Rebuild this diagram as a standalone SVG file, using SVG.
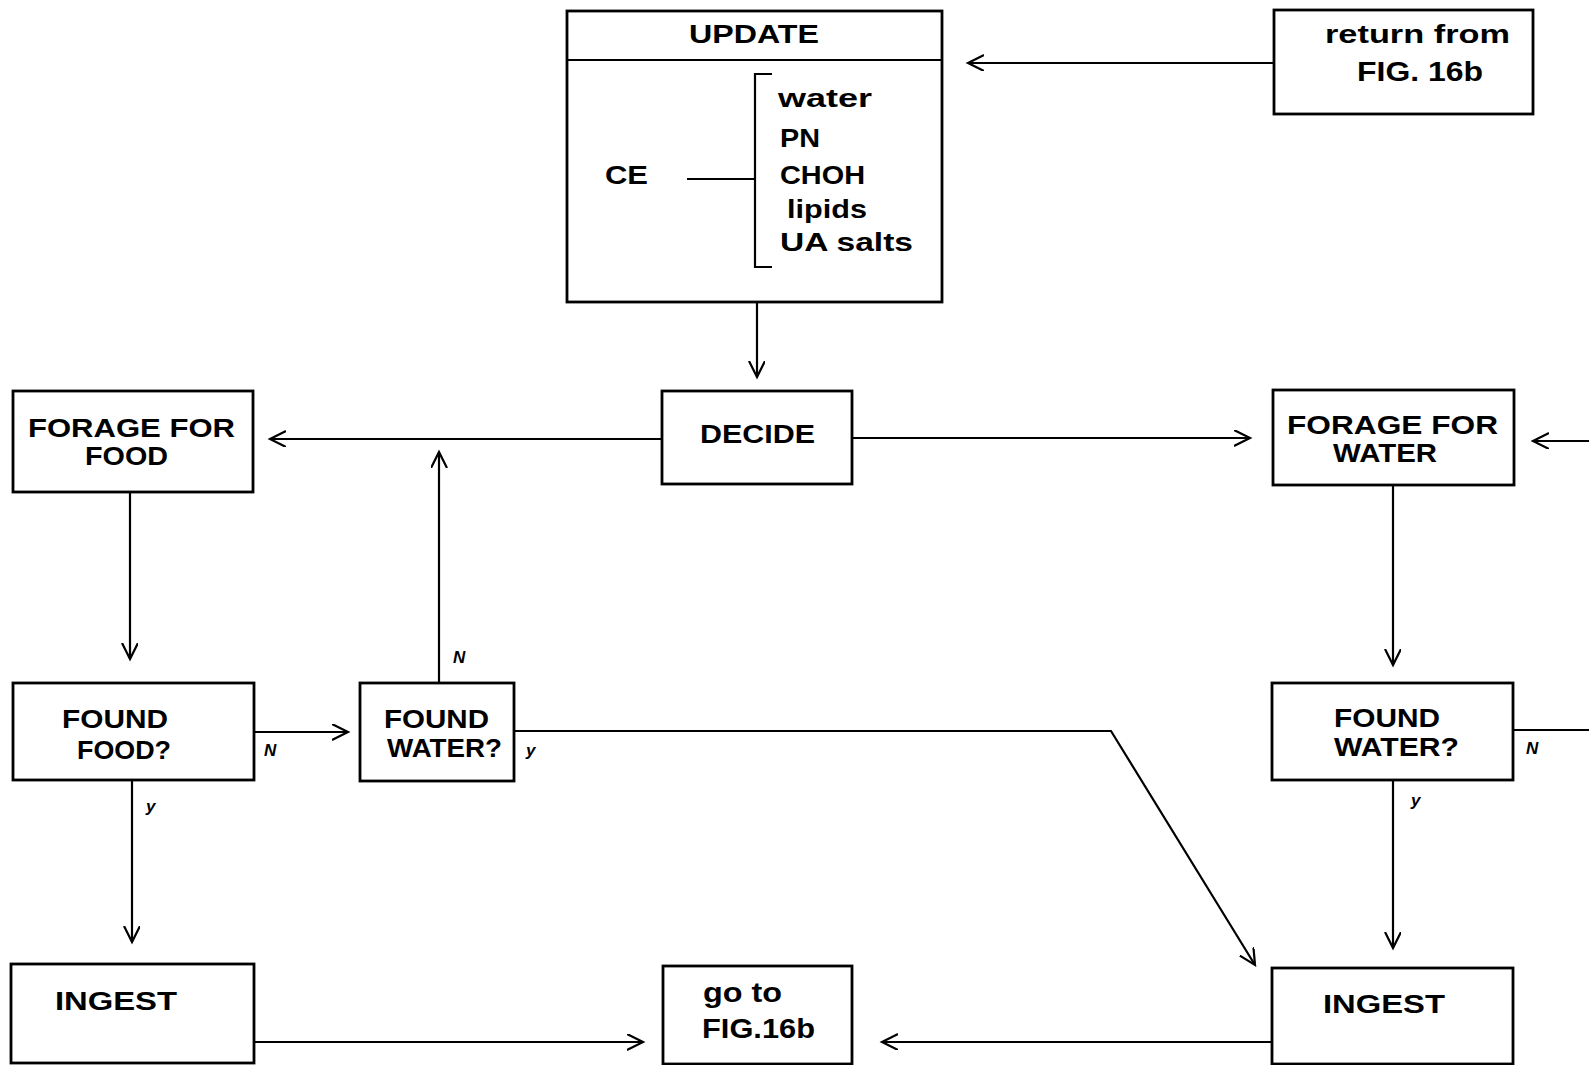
<svg xmlns="http://www.w3.org/2000/svg" width="1589" height="1065" viewBox="0 0 1589 1065">
<style>
.box{fill:none;stroke:#000;stroke-width:2.8}
.ln{fill:none;stroke:#000;stroke-width:2.2}
.arr{marker-end:url(#ah)}
text{font-family:"Liberation Sans",Arial,sans-serif;font-weight:bold;fill:#000}
.t{font-size:27px}
.s{font-size:26px}
.f{font-size:25px}
.lab{font-size:17px;font-style:italic}
</style>
<defs>
<marker id="ah" markerUnits="userSpaceOnUse" markerWidth="20" markerHeight="20" refX="16" refY="8" orient="auto">
<path d="M0,0 L16,8 L0,16" fill="none" stroke="#000" stroke-width="2.2"/>
</marker>
</defs>
<rect width="1589" height="1065" fill="#fff"/>

<g id="update">
<rect class="box" x="567" y="11" width="375" height="291"/>
<line class="ln" x1="567" y1="60" x2="942" y2="60"/>
<text class="s" x="689" y="43" textLength="130" lengthAdjust="spacingAndGlyphs">UPDATE</text>
<text class="s" x="605" y="184" textLength="43" lengthAdjust="spacingAndGlyphs">CE</text>
<line class="ln" x1="687" y1="179" x2="755" y2="179"/>
<path class="ln" d="M772,74 H755 V267 H772"/>
<text class="s" x="778" y="107" textLength="94" lengthAdjust="spacingAndGlyphs">water</text>
<text class="s" x="780" y="147" textLength="40" lengthAdjust="spacingAndGlyphs">PN</text>
<text class="s" x="780" y="184" textLength="85" lengthAdjust="spacingAndGlyphs">CHOH</text>
<text class="s" x="787" y="218" textLength="80" lengthAdjust="spacingAndGlyphs">lipids</text>
<text class="s" x="780" y="251" textLength="133" lengthAdjust="spacingAndGlyphs">UA salts</text>
</g>

<g id="return-from">
<rect class="box" x="1274" y="10" width="259" height="104"/>
<text class="s" x="1325" y="43" textLength="185" lengthAdjust="spacingAndGlyphs">return  from</text>
<text class="t" x="1357" y="81" textLength="126" lengthAdjust="spacingAndGlyphs">FIG. 16b</text>
</g>

<g id="decide">
<rect class="box" x="662" y="391" width="190" height="93"/>
<text class="s" x="700" y="443" textLength="115" lengthAdjust="spacingAndGlyphs">DECIDE</text>
</g>

<g id="forage-food">
<rect class="box" x="13" y="391" width="240" height="101"/>
<text class="f" x="28" y="437" textLength="207" lengthAdjust="spacingAndGlyphs">FORAGE  FOR</text>
<text class="f" x="85" y="465" textLength="83" lengthAdjust="spacingAndGlyphs">FOOD</text>
</g>

<g id="forage-water">
<rect class="box" x="1273" y="390" width="241" height="95"/>
<text class="f" x="1287" y="434" textLength="211" lengthAdjust="spacingAndGlyphs">FORAGE  FOR</text>
<text class="f" x="1333" y="462" textLength="104" lengthAdjust="spacingAndGlyphs">WATER</text>
</g>

<g id="found-food">
<rect class="box" x="13" y="683" width="241" height="97"/>
<text class="s" x="62" y="728" textLength="106" lengthAdjust="spacingAndGlyphs">FOUND</text>
<text class="s" x="77" y="759" textLength="94" lengthAdjust="spacingAndGlyphs">FOOD?</text>
</g>

<g id="found-water-left">
<rect class="box" x="360" y="683" width="154" height="98"/>
<text class="f" x="384" y="728" textLength="105" lengthAdjust="spacingAndGlyphs">FOUND</text>
<text class="f" x="387" y="757" textLength="115" lengthAdjust="spacingAndGlyphs">WATER?</text>
</g>

<g id="found-water-right">
<rect class="box" x="1272" y="683" width="241" height="97"/>
<text class="f" x="1334" y="727" textLength="106" lengthAdjust="spacingAndGlyphs">FOUND</text>
<text class="f" x="1334" y="756" textLength="125" lengthAdjust="spacingAndGlyphs">WATER?</text>
</g>

<g id="ingest-left">
<rect class="box" x="11" y="964" width="243" height="99"/>
<text class="s" x="55" y="1010" textLength="122" lengthAdjust="spacingAndGlyphs">INGEST</text>
</g>

<g id="go-to">
<rect class="box" x="663" y="966" width="189" height="98"/>
<text class="t" x="703" y="1002" textLength="79" lengthAdjust="spacingAndGlyphs">go to</text>
<text class="t" x="702" y="1038" textLength="113" lengthAdjust="spacingAndGlyphs">FIG.16b</text>
</g>

<g id="ingest-right">
<rect class="box" x="1272" y="968" width="241" height="96"/>
<text class="s" x="1323" y="1013" textLength="122" lengthAdjust="spacingAndGlyphs">INGEST</text>
</g>

<g id="connectors">
<line class="ln arr" x1="1274" y1="63" x2="968" y2="63"/>
<line class="ln arr" x1="757" y1="302" x2="757" y2="377"/>
<line class="ln arr" x1="662" y1="439" x2="270" y2="439"/>
<line class="ln arr" x1="852" y1="438" x2="1250" y2="438"/>
<line class="ln arr" x1="1589" y1="441" x2="1533" y2="441"/>
<line class="ln arr" x1="130" y1="492" x2="130" y2="659"/>
<line class="ln arr" x1="254" y1="732" x2="348" y2="732"/>
<line class="ln arr" x1="439" y1="683" x2="439" y2="452"/>
<polyline class="ln arr" points="514,731 1111,731 1255,965"/>
<line class="ln arr" x1="132" y1="780" x2="132" y2="942"/>
<line class="ln arr" x1="1393" y1="485" x2="1393" y2="665"/>
<line class="ln" x1="1513" y1="730" x2="1589" y2="730"/>
<line class="ln arr" x1="1393" y1="780" x2="1393" y2="948"/>
<line class="ln arr" x1="254" y1="1042" x2="643" y2="1042"/>
<line class="ln arr" x1="1272" y1="1042" x2="882" y2="1042"/>
<text class="lab" x="264" y="756">N</text>
<text class="lab" x="453" y="663">N</text>
<text class="lab" x="526" y="756">y</text>
<text class="lab" x="146" y="812">y</text>
<text class="lab" x="1411" y="806">y</text>
<text class="lab" x="1526" y="754">N</text>
</g>
</svg>
